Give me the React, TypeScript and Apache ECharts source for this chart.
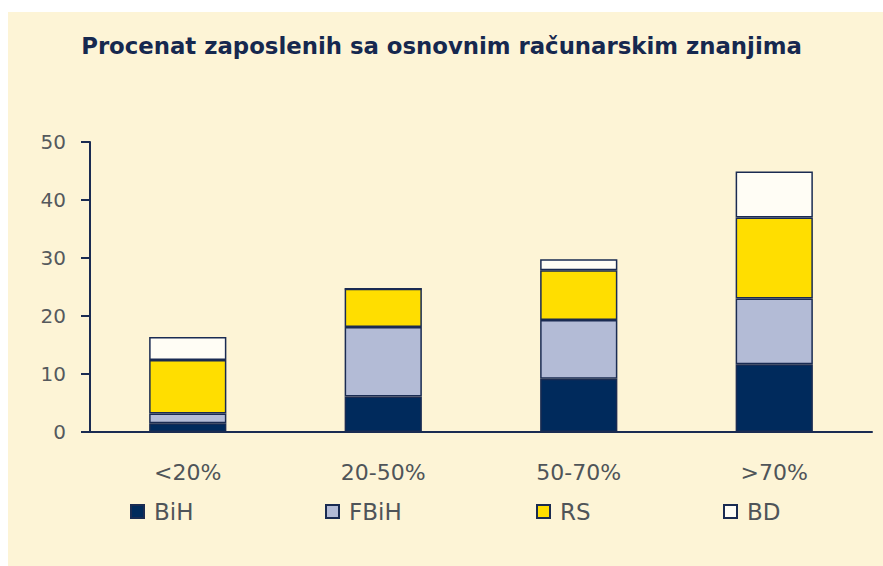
import React, { useEffect, useRef } from "react";
import * as echarts from "echarts";

const categories = ["<20%", "20-50%", "50-70%", ">70%"];
const seriesNames = ["BiH", "FBiH", "RS", "BD"];
const bihValues = [1.5, 6.1, 9.2, 11.7];
const fbihValues = [1.7, 12.0, 10.1, 11.3];
const rsValues = [9.2, 6.6, 8.6, 14.0];
const bdValues = [4.0, 0, 1.9, 7.9];
const yTicks = { min: 0, max: 50, interval: 10 };
const titleText = "Procenat zaposlenih sa osnovnim računarskim znanjima";

const NAVY = "#1a2b52";
const colors = ["#002a5c", "#b3bbd6", "#ffde00", "#fffdf5"];
const FONT = "'DejaVu Sans', sans-serif";
const GRAY = "#4f5459";

export default function App() {
  const ref = useRef<HTMLDivElement>(null);
  useEffect(() => {
    document.body.style.margin = "0";
    const chart = echarts.init(ref.current!, null, { renderer: "svg" });
    const values = [bihValues, fbihValues, rsValues, bdValues];
    const legendLefts = [130, 325, 536, 723];
    chart.setOption({
      animation: false,
      backgroundColor: "#ffffff",
      graphic: [
        {
          type: "rect",
          z: -10,
          silent: true,
          shape: { x: 8, y: 12, width: 875, height: 554 },
          style: { fill: "#fdf4d6" },
        },
      ],
      title: {
        text: titleText,
        left: "center",
        top: 29,
        textStyle: {
          fontFamily: FONT,
          fontWeight: "bold",
          fontSize: 22.8,
          color: "#16284f",
        },
      },
      legend: seriesNames.map((n, i) => ({
        data: [n],
        left: legendLefts[i],
        top: 500,
        padding: 0,
        itemWidth: 13,
        itemHeight: 13,
        icon: "rect",
        itemStyle: { borderColor: NAVY, borderWidth: 2 },
        textStyle: {
          fontFamily: FONT,
          fontSize: 23,
          color: GRAY,
          padding: [0, 0, 0, 5],
        },
      })),
      grid: { left: 90, right: 11, top: 142, bottom: 134 },
      xAxis: {
        type: "category",
        data: categories,
        axisLine: { lineStyle: { color: NAVY, width: 2 } },
        axisTick: { length: 10, lineStyle: { color: NAVY, width: 2 } },
        axisLabel: {
          fontFamily: FONT,
          fontSize: 22,
          color: GRAY,
          margin: 29,
        },
      },
      yAxis: {
        type: "value",
        min: yTicks.min,
        max: yTicks.max,
        interval: yTicks.interval,
        splitLine: { show: false },
        axisLine: { show: true, lineStyle: { color: NAVY, width: 2 } },
        axisTick: { show: true, length: 9, lineStyle: { color: NAVY, width: 2 } },
        axisLabel: {
          fontFamily: FONT,
          fontSize: 20,
          color: "#55595d",
          margin: 24,
        },
      },
      series: seriesNames.map((n, i) => ({
        name: n,
        type: "bar",
        stack: "total",
        barWidth: "39.5%",
        data: values[i],
        itemStyle: { color: colors[i], borderColor: NAVY, borderWidth: 1.5 },
      })),
    });
    return () => chart.dispose();
  }, []);
  return <div ref={ref} style={{ width: 883, height: 566 }} />;
}
